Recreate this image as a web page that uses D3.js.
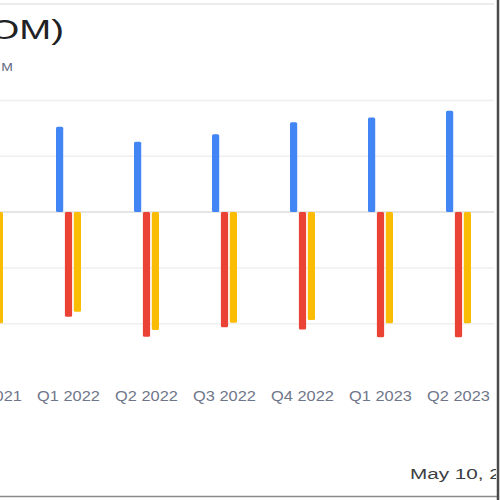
<!DOCTYPE html>
<html lang="en">
<head>
  <meta charset="utf-8">
  <title>XOM quarterly</title>
  <script src="https://cdn.jsdelivr.net/npm/d3@7/dist/d3.min.js"></script>
  <style>
    body { margin: 0; background: #fff; }
    svg { display: block; }
  </style>
</head>
<body>
<script>
// quarters shown (first and last are partly cut off by the frame)
var quarters = ["Q4 2021", "Q1 2022", "Q2 2022", "Q3 2022", "Q4 2022", "Q1 2023", "Q2 2023"];
var seriesNames = ["blue", "red", "yellow"];
var blueVals   = [36.0, 38.2, 31.5, 34.8, 40.2, 42.3, 45.4];
var redVals    = [-52.0, -46.8, -55.8, -51.6, -52.5, -56.0, -56.0];
var yellowVals = [-49.8, -44.6, -52.8, -49.5, -48.3, -49.8, -49.8];
var gridVals = [-50, -25, 0, 25, 50];

var w = 500, h = 500;
var colors = { blue: "#4285f4", red: "#ea4335", yellow: "#fbbc04" };
var font = "Liberation Sans, Arial, sans-serif";

var rows = quarters.map(function(q, i) {
  return { q: q, blue: blueVals[i], red: redVals[i], yellow: yellowVals[i] };
});

var svg = d3.select("body").append("svg")
  .attr("width", w)
  .attr("height", h);

svg.append("defs").append("clipPath").attr("id", "frame")
  .append("rect").attr("x", 0).attr("y", 0).attr("width", 496).attr("height", 495);

var g = svg.append("g").attr("clip-path", "url(#frame)");

var x0 = d3.scalePoint().domain(quarters).range([-9.5, 458.5]);
var x1 = d3.scaleBand().domain(seriesNames).range([-12.5, 12.5]).paddingInner(0.19);
var y = d3.scaleLinear().domain([-50, 50]).range([323.8, 100.4]);

// top separator of the card
g.append("line")
  .attr("x1", 0).attr("x2", 494)
  .attr("y1", 4).attr("y2", 4)
  .attr("stroke", "#ececec").attr("stroke-width", 2);

// gridlines
g.selectAll(".grid").data(gridVals).enter().append("line")
  .attr("class", "grid")
  .attr("x1", 0).attr("x2", 494)
  .attr("y1", function(d) { return y(d); })
  .attr("y2", function(d) { return y(d); })
  .attr("stroke", function(d) { return d === 0 ? "#dcdcdc" : "#efefef"; })
  .attr("stroke-width", 1.5);

// bars
var groups = g.selectAll(".grp").data(rows).enter().append("g")
  .attr("class", "grp")
  .attr("transform", function(d) { return "translate(" + x0(d.q) + ",0)"; });

groups.selectAll("rect")
  .data(function(d) { return seriesNames.map(function(s) { return { s: s, v: d[s] }; }); })
  .enter().append("rect")
  .attr("x", function(d) { return x1(d.s); })
  .attr("width", x1.bandwidth())
  .attr("y", function(d) { return Math.min(y(d.v), y(0)); })
  .attr("height", function(d) { return Math.abs(y(d.v) - y(0)); })
  .attr("rx", 1.5)
  .attr("fill", function(d) { return colors[d.s]; });

// the picture is stretched sideways, so texts get a horizontal scale
function stretched(x, yy, sx) {
  return "translate(" + x + "," + yy + ") scale(" + sx + ",1)";
}

// category labels
g.selectAll(".xlab").data(quarters).enter().append("text")
  .attr("class", "xlab")
  .attr("transform", function(d) { return stretched(x0(d), 401, 1.17); })
  .attr("text-anchor", "middle")
  .attr("font-family", font)
  .attr("font-size", 14)
  .attr("fill", "#6f7689")
  .text(function(d) { return d; });

// title, cut at the left edge
g.append("text")
  .attr("transform", stretched(64, 39, 1.42))
  .attr("text-anchor", "end")
  .attr("font-family", font)
  .attr("font-size", 27)
  .attr("fill", "#202124")
  .text("Exxon Mobil Corp (XOM)");

g.append("text")
  .attr("transform", stretched(13, 71, 1.4))
  .attr("text-anchor", "end")
  .attr("font-family", font)
  .attr("font-size", 10)
  .attr("fill", "#5f6680")
  .text("USD M");

// date, cut at the right edge
g.append("text")
  .attr("transform", stretched(410, 479, 1.38))
  .attr("font-family", font)
  .attr("font-size", 15)
  .attr("fill", "#3c4043")
  .text("May 10, 2023");

// card frame on the right and bottom
svg.append("line")
  .attr("x1", 0).attr("x2", 497)
  .attr("y1", 496.5).attr("y2", 496.5)
  .attr("stroke", "#8a8a8a").attr("stroke-width", 1.5);
svg.append("line")
  .attr("x1", 498).attr("x2", 498)
  .attr("y1", 0).attr("y2", 500)
  .attr("stroke", "#4a4a4a").attr("stroke-width", 2.5);
</script>
</body>
</html>
